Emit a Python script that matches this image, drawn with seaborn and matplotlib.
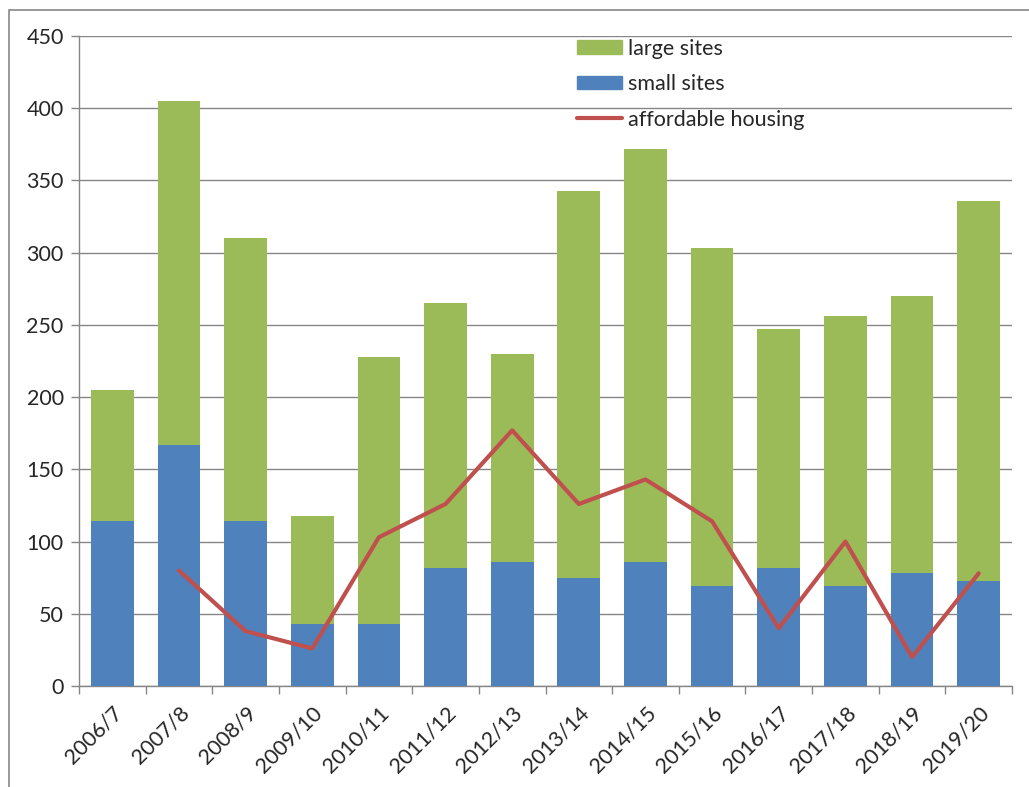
import numpy as np
import pandas as pd
import matplotlib
matplotlib.use("Agg")
import matplotlib.pyplot as plt
import matplotlib.patches as mpatches
from matplotlib.lines import Line2D
import seaborn as sns

years = ["2006/7", "2007/8", "2008/9", "2009/10", "2010/11", "2011/12", "2012/13",
         "2013/14", "2014/15", "2015/16", "2016/17", "2017/18", "2018/19", "2019/20"]
total_sites = [205, 405, 310, 118, 228, 265, 230, 343, 372, 303, 247, 256, 270, 336]
small_sites = [114, 167, 114, 43, 43, 82, 86, 75, 86, 69, 82, 69, 78, 73]
affordable_years = years[1:]
affordable = [80, 38, 26, 103, 126, 177, 126, 143, 114, 40, 100, 20, 78]

GREEN = "#9BBB59"
BLUE = "#4F81BD"
RED = "#C0504D"
GRID = "#868686"
FS = 15.5

sns.set_style("white")
plt.rcParams["font.family"] = ["Lato", "DejaVu Sans"]

fig = plt.figure(figsize=(10.29, 7.87), dpi=100)
ax = fig.add_axes([79/1029, 1-686/787, (1012-79)/1029, (686-36)/787])

df = pd.DataFrame({"year": years, "total": total_sites, "small": small_sites})
sns.barplot(data=df, x="year", y="total", color=GREEN, width=0.64, ax=ax,
            saturation=1, edgecolor="none", zorder=2)
sns.barplot(data=df, x="year", y="small", color=BLUE, width=0.64, ax=ax,
            saturation=1, edgecolor="none", zorder=3)

aff = pd.DataFrame({"pos": [years.index(y) for y in affordable_years],
                    "value": affordable})
sns.lineplot(data=aff, x="pos", y="value", color=RED, linewidth=3, ax=ax,
             zorder=4, sort=False)

ax.set_ylim(0, 450)
ax.set_xlim(-0.5, len(years) - 0.5)
ax.set_yticks(np.arange(0, 451, 50))
ax.yaxis.grid(True, color=GRID, linewidth=1)
ax.set_axisbelow(True)
ax.set_xlabel("")
ax.set_ylabel("")

ax.set_xticks(range(len(years)))
ax.set_xticklabels(years, rotation=45, ha="right", rotation_mode="anchor", fontsize=FS)
ax.set_xticks(np.arange(-0.5, len(years), 1), minor=True)
ax.tick_params(axis="x", which="major", length=0, pad=12)
ax.tick_params(axis="x", which="minor", length=6, color=GRID, width=1, bottom=True)
ax.tick_params(axis="y", length=6, color=GRID, width=1, left=True, labelsize=FS, pad=5)

for s in ["top", "right"]:
    ax.spines[s].set_visible(False)
for s in ["left", "bottom"]:
    ax.spines[s].set_color(GRID)
    ax.spines[s].set_linewidth(1)

handles = [mpatches.Patch(color=GREEN, label="large sites"),
           mpatches.Patch(color=BLUE, label="small sites"),
           Line2D([0], [0], color=RED, linewidth=3, label="affordable housing")]
ax.legend(handles=handles, loc="upper left", bbox_to_anchor=((577-79)/933, 0.996),
          frameon=False, fontsize=FS, handlelength=2.1, handletextpad=0.25,
          handleheight=0.6, labelspacing=0.72, borderpad=0, borderaxespad=0)

fig.patches.append(mpatches.Rectangle((9/1029, -0.05), 1.1, 1.05 - 10/787,
                                      transform=fig.transFigure, fill=False,
                                      edgecolor=GRID, linewidth=1.2))

fig.savefig("out.png", dpi=100)
